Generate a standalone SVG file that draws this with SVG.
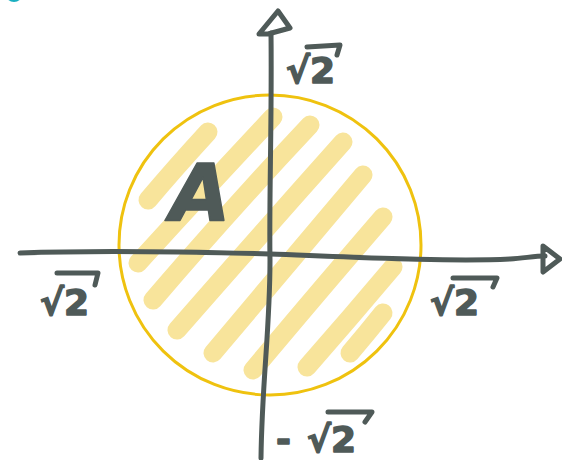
<svg xmlns="http://www.w3.org/2000/svg" width="562" height="460" viewBox="0 0 562 460">
<style>
.hatch{fill:none;stroke:#F8E49B;stroke-width:19;stroke-linecap:round}
.ink{fill:none;stroke:#4F5A58;stroke-width:5;stroke-linecap:round;stroke-linejoin:round}
.lbl{font-family:"DejaVu Sans","Liberation Sans",sans-serif;font-weight:bold;fill:#4F5A58;stroke:#4F5A58;stroke-width:1.5;stroke-linejoin:round}
</style>
<rect width="562" height="460" fill="#ffffff"/>
<ellipse id="corner-mark" cx="14" cy="-5" rx="8" ry="7" fill="#1AAFC0"/>
<g id="hatching">
<path class="hatch" d="M148 200 Q175 168 208 132"/>
<path class="hatch" d="M138 263 Q200 195 273 117"/>
<path class="hatch" d="M153 300 Q230 210 310 125"/>
<path class="hatch" d="M177 330 Q260 235 343 142"/>
<path class="hatch" d="M213 353 Q290 262 363 175"/>
<path class="hatch" d="M253 370 Q320 290 383 217"/>
<path class="hatch" d="M307 367 Q350 318 393 267"/>
<path class="hatch" d="M350 353 Q367 333 383 313"/>
</g>
<g id="circle">
<ellipse cx="270" cy="245" rx="151" ry="150" fill="none" stroke="#EFC20F" stroke-width="3"/>
</g>
<g id="connectors">
<path class="ink" d="M271 33 C272 120 269 200 270 260 C270 330 262 380 261 458"/>
<path class="ink" d="M268 34 L259 34 L278 11 L290 28 Z"/>
<path class="ink" d="M20 253 C100 250 200 252 270 254 C350 257 450 262 510 259 C525 258 535 256 545 256"/>
<path class="ink" d="M543 256 L543 246 L560 259 L543 272 Z"/>
</g>
<g id="label-A">
<text class="lbl" x="170" y="220" font-size="78" font-style="italic" stroke-width="0">A</text>
</g>
<g id="label-top">
<text class="lbl" x="286" y="83" font-size="36">√2</text>
<path class="ink" d="M307 47 L340 45 L337 55"/>
</g>
<g id="label-right">
<text class="lbl" x="430" y="315" font-size="36">√2</text>
<path class="ink" d="M453 278 L497 278 L493 287"/>
</g>
<g id="label-left">
<text class="lbl" x="40" y="315" font-size="36">√2</text>
<path class="ink" d="M57 273 L98 273 L95 285"/>
</g>
<g id="label-bottom">
<text class="lbl" x="276" y="452" font-size="36">-<tspan dx="16">√2</tspan></text>
<path class="ink" d="M328 412 L372 412 L365 422"/>
</g>
</svg>
